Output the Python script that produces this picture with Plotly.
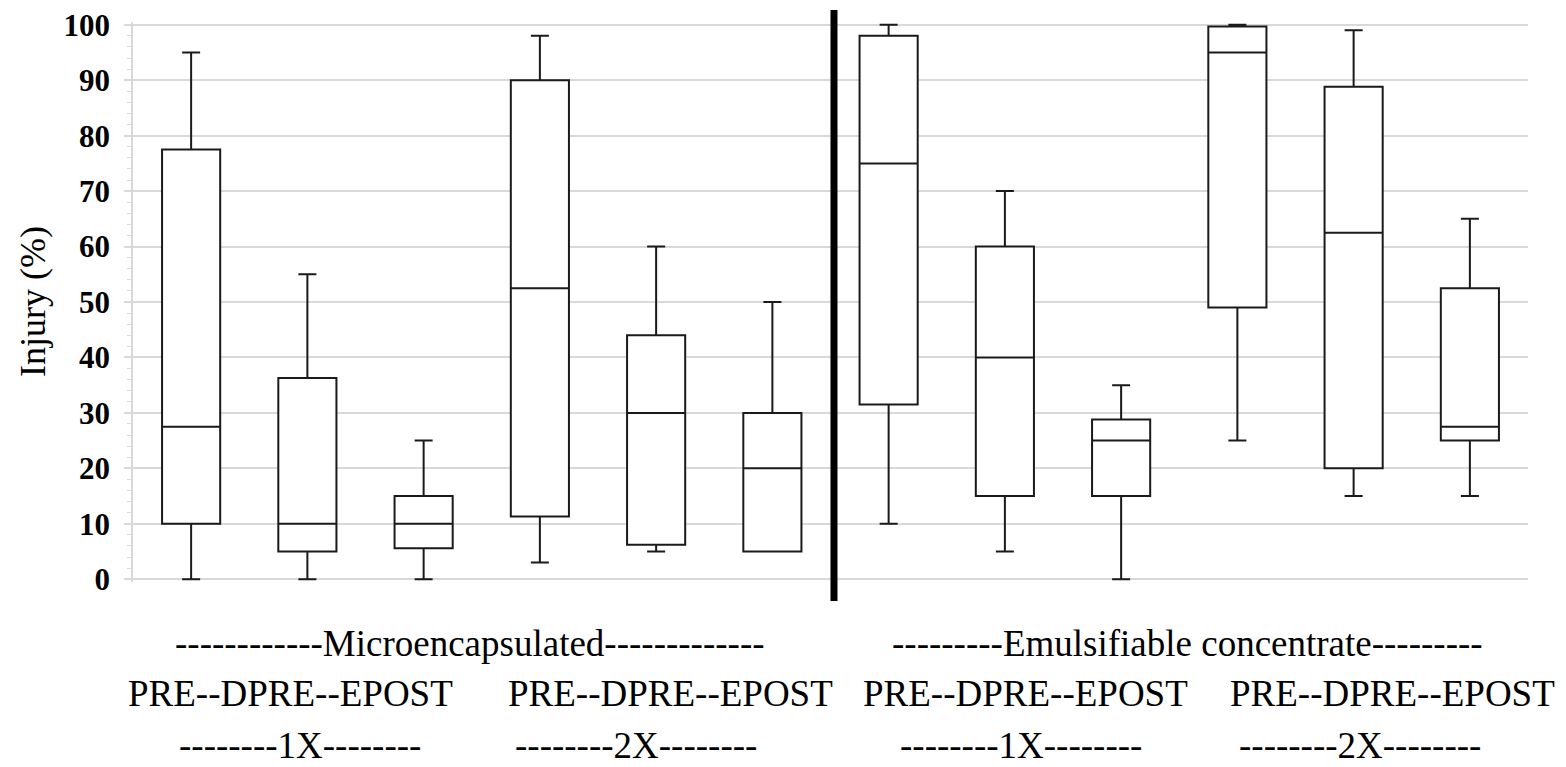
import plotly.graph_objects as go

# ---- data ----
categories = ["ME 1X PRE", "ME 1X DPRE", "ME 1X EPOST",
              "ME 2X PRE", "ME 2X DPRE", "ME 2X EPOST",
              "EC 1X PRE", "EC 1X DPRE", "EC 1X EPOST",
              "EC 2X PRE", "EC 2X DPRE", "EC 2X EPOST"]
lower_whisker = [0, 0, 0, 3, 5, 5, 10, 5, 0, 25, 15, 15]
q1_values = [10, 5, 5.6, 11.3, 6.2, 5, 31.5, 15, 15, 49, 20, 25]
median_values = [27.5, 10, 10, 52.5, 30, 20, 75, 40, 25, 95, 62.5, 27.5]
q3_values = [77.5, 36.3, 15, 90, 44, 30, 98, 60, 28.8, 99.7, 88.8, 52.5]
upper_whisker = [95, 55, 25, 98, 60, 50, 100, 70, 35, 100, 99, 65]

y_tick_values = [0, 10, 20, 30, 40, 50, 60, 70, 80, 90, 100]
y_title = "Injury (%)"
formulation_labels = ["------------Microencapsulated-------------",
                      "---------Emulsifiable concentrate---------"]
timing_labels = ["PRE--DPRE--EPOST", "PRE--DPRE--EPOST",
                 "PRE--DPRE--EPOST", "PRE--DPRE--EPOST"]
rate_labels = ["--------1X--------", "--------2X--------",
               "--------1X--------", "--------2X--------"]

# ---- layout geometry (pixels); the page body adds an 8px offset ----
OFF = 8
W, H = 1566 - OFF, 767 - OFF
ML, MR, MT, MB = 133 - OFF, 38, 22 - OFF, 185
PW = W - ML - MR
PH = H - MT - MB
PLOT_BOTTOM = H - MB


def px_x(p):
    # page pixel -> paper x
    return (p - OFF - ML) / PW


def px_y(p):
    # page pixel -> paper y
    return (PLOT_BOTTOM - (p - OFF)) / PH


FONT = "Liberation Serif, Times New Roman, serif"

fig = go.Figure()
fig.add_trace(go.Box(
    x=categories,
    q1=q1_values,
    median=median_values,
    q3=q3_values,
    lowerfence=lower_whisker,
    upperfence=upper_whisker,
    boxpoints=False,
    fillcolor="white",
    line=dict(color="#1a1a1a", width=2),
    whiskerwidth=0.31,
    showlegend=False,
    hoverinfo="skip",
))

fig.update_layout(
    width=W, height=H,
    margin=dict(l=ML, r=MR, t=MT, b=MB, pad=0, autoexpand=False),
    paper_bgcolor="white",
    plot_bgcolor="white",
    boxgap=0.5,
    boxgroupgap=0,
    showlegend=False,
    xaxis=dict(
        showticklabels=False,
        showgrid=False,
        zeroline=False,
        showline=False,
        ticks="",
        automargin=False,
    ),
    yaxis=dict(
        range=[-0.5, 100.5],
        automargin=False,
        tickvals=y_tick_values,
        tickfont=dict(family=FONT, size=31, color="black", weight="bold"),
        ticklabeloverflow="allow",
        showgrid=True,
        gridcolor="#d9d9d9",
        gridwidth=1.5,
        zeroline=False,
        showline=True,
        linecolor="#d9d9d9",
        linewidth=1.5,
        ticks="outside",
        ticklen=7,
        tickcolor="#d9d9d9",
        tickwidth=1.5,
        ticklabelstandoff=8,
        minor=dict(dtick=2, ticks="outside", ticklen=4, tickcolor="#d9d9d9",
                   tickwidth=1, showgrid=False),
    ),
)

# thick vertical separator between formulations
fig.add_shape(type="line", xref="x", yref="paper",
              x0=5.53, x1=5.53, y0=px_y(601), y1=px_y(10),
              line=dict(color="black", width=7))

annotations = []
annotations.append(dict(text=y_title, xref="paper", yref="paper",
                        x=px_x(33), y=px_y(302), textangle=-90,
                        xanchor="center", yanchor="middle", showarrow=False,
                        font=dict(family=FONT, size=36, color="black")))

form_centers = [470, 1187]
for lbl, cx in zip(formulation_labels, form_centers):
    annotations.append(dict(text=lbl, xref="paper", yref="paper",
                            x=px_x(cx), y=px_y(643), xanchor="center",
                            yanchor="middle", showarrow=False,
                            font=dict(family=FONT, size=37, color="black")))

timing_centers = [290, 670, 1026, 1392]
for lbl, cx in zip(timing_labels, timing_centers):
    annotations.append(dict(text=lbl, xref="paper", yref="paper",
                            x=px_x(cx), y=px_y(693), xanchor="center",
                            yanchor="middle", showarrow=False,
                            font=dict(family=FONT, size=37, color="black")))

rate_centers = [300, 636, 1021, 1360]
for lbl, cx in zip(rate_labels, rate_centers):
    annotations.append(dict(text=lbl, xref="paper", yref="paper",
                            x=px_x(cx), y=px_y(745), xanchor="center",
                            yanchor="middle", showarrow=False,
                            font=dict(family=FONT, size=37, color="black")))

fig.update_layout(annotations=annotations)

fig.write_html("out.html")
